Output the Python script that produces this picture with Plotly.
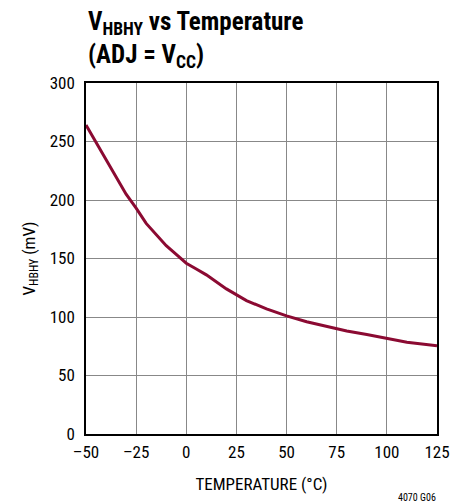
import plotly.graph_objects as go

temps = [-50, -40, -30, -25, -20, -10, 0, 5, 10, 20, 25, 30, 40, 50, 60, 70, 80, 90, 100, 110, 125]
vhbhy = [264, 235, 205, 193, 180, 161, 146, 141, 136, 124, 119, 114, 107, 101, 96, 92, 88, 85, 81.5, 78.5, 75.5]

x_ticks = [-50, -25, 0, 25, 50, 75, 100, 125]
x_tick_labels = ["–50", "–25", "0", "25", "50", "75", "100", "125"]
y_ticks = [0, 50, 100, 150, 200, 250, 300]

FONT = "Liberation Sans Narrow, Roboto Condensed, Arial Narrow, Liberation Sans, sans-serif"

fig = go.Figure()
fig.add_trace(go.Scatter(x=temps, y=vhbhy, mode="lines",
                         line=dict(color="#8B0A32", width=3), showlegend=False))

fig.update_layout(
    width=457, height=496,
    margin=dict(l=78, r=28, t=75, b=70),
    paper_bgcolor="white", plot_bgcolor="white",
    font=dict(family=FONT, size=17, color="black"),
    xaxis=dict(range=[-50, 125], tickvals=x_ticks, ticktext=x_tick_labels,
               showgrid=True, gridcolor="#888888", gridwidth=1,
               showline=True, linecolor="black", linewidth=1.5, mirror=True,
               ticks="", zeroline=False, ticklabelstandoff=2,
               title=dict(text="TEMPERATURE (°C)", font=dict(size=17), standoff=17)),
    yaxis=dict(range=[0, 300], tickvals=y_ticks,
               showgrid=True, gridcolor="#888888", gridwidth=1,
               showline=True, linecolor="black", linewidth=1.5, mirror=True,
               ticks="", zeroline=False, ticklabelstandoff=6,
               title=dict(text="V<sub>HBHY</sub> (mV)", font=dict(size=17), standoff=10)),
    annotations=[
        dict(text="<b>V<sub>HBHY</sub> vs Temperature<br>(ADJ = V<sub>CC</sub>)</b>",
             xref="paper", yref="paper", x=0, y=1, xanchor="left", yanchor="bottom",
             yshift=9, showarrow=False, align="left", font=dict(size=25, family=FONT)),
        dict(text="4070 G06", xref="paper", yref="paper", x=1, y=0, xanchor="right",
             yanchor="middle", yshift=-63, xshift=1, showarrow=False, font=dict(size=10, family=FONT)),
    ],
)

fig.write_html("out.html")
